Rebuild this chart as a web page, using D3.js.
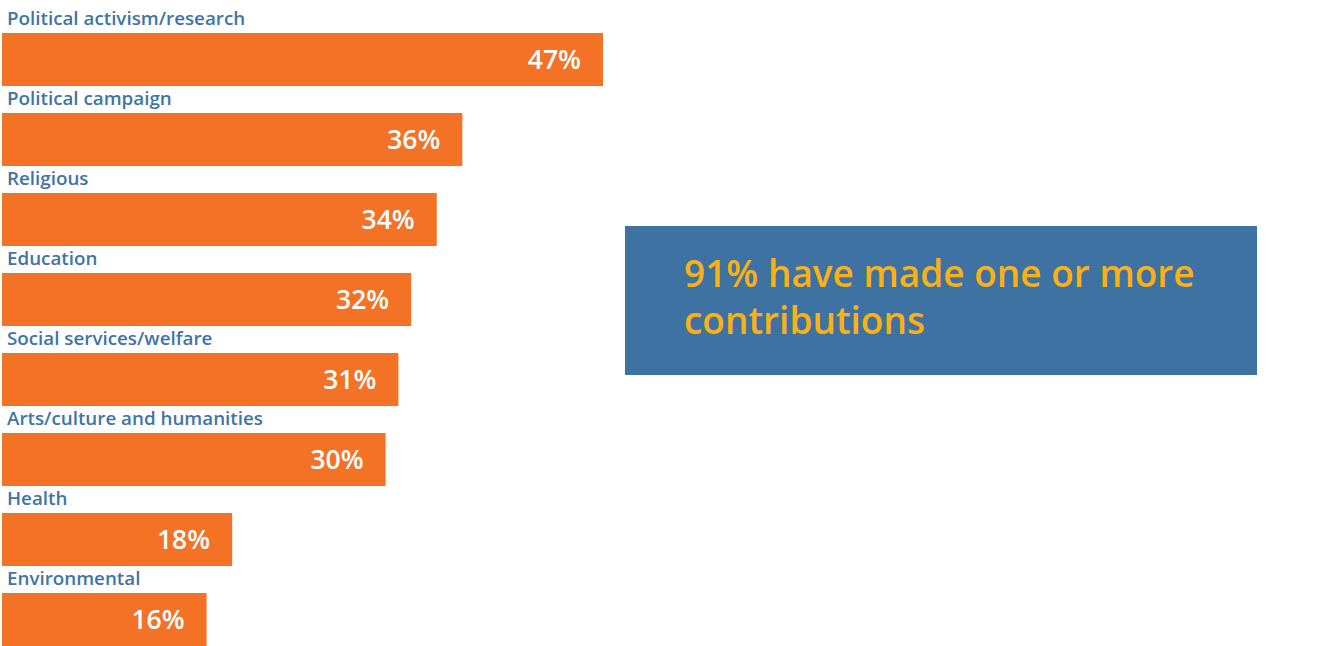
<!DOCTYPE html>
<html>
<head>
<meta charset="utf-8">
<script src="https://cdn.jsdelivr.net/npm/d3@7"></script>
<style>
  body { margin: 0; background: #fff; }
  svg { display: block; }
</style>
</head>
<body>
<div id="container"></div>
<script>
// data
const categories = [
  "Political activism/research",
  "Political campaign",
  "Religious",
  "Education",
  "Social services/welfare",
  "Arts/culture and humanities",
  "Health",
  "Environmental"
]
const values = [47, 36, 34, 32, 31, 30, 18, 16]
const calloutLines = ["91% have made one or more", "contributions"]

const W = 1332, H = 646
const font = "'Open Sans', 'Noto Sans', sans-serif"

const svg = d3.select("#container")
  .append("svg")
  .attr("width", W)
  .attr("height", H)

// scales
const x = d3.scaleLinear().domain([0, 47]).range([2, 603])
const y = d3.scaleBand().domain(categories).range([13, 653]).paddingInner(0)

const rows = svg.selectAll(".row")
  .data(categories.map((c, i) => ({ cat: c, val: values[i] })))
  .enter().append("g")
  .attr("class", "row")
  .attr("transform", d => `translate(0, ${y(d.cat)})`)

rows.append("text")
  .attr("x", 7)
  .attr("y", 12)
  .attr("fill", "#3f74a6")
  .style("font-family", font)
  .style("font-weight", 600)
  .style("font-size", "18.8px")
  .text(d => d.cat)

rows.append("rect")
  .attr("x", x(0))
  .attr("y", 20)
  .attr("width", d => x(d.val) - x(0))
  .attr("height", 53)
  .attr("fill", "#f37225")

rows.append("text")
  .attr("x", d => x(d.val) - 22)
  .attr("y", 56)
  .attr("text-anchor", "end")
  .attr("fill", "#fff")
  .style("font-family", font)
  .style("font-weight", 600)
  .style("font-size", "26.5px")
  .text(d => d.val + "%")

// callout box
svg.append("rect")
  .attr("x", 625)
  .attr("y", 226)
  .attr("width", 632)
  .attr("height", 149)
  .attr("fill", "#3d72a3")

svg.selectAll(".callout")
  .data(calloutLines)
  .enter().append("text")
  .attr("class", "callout")
  .attr("x", 684)
  .attr("y", (d, i) => 287 + i * 47)
  .attr("fill", "#fbb116")
  .style("font-family", font)
  .style("font-weight", 600)
  .style("font-size", "37px")
  .text(d => d)
</script>
</body>
</html>
